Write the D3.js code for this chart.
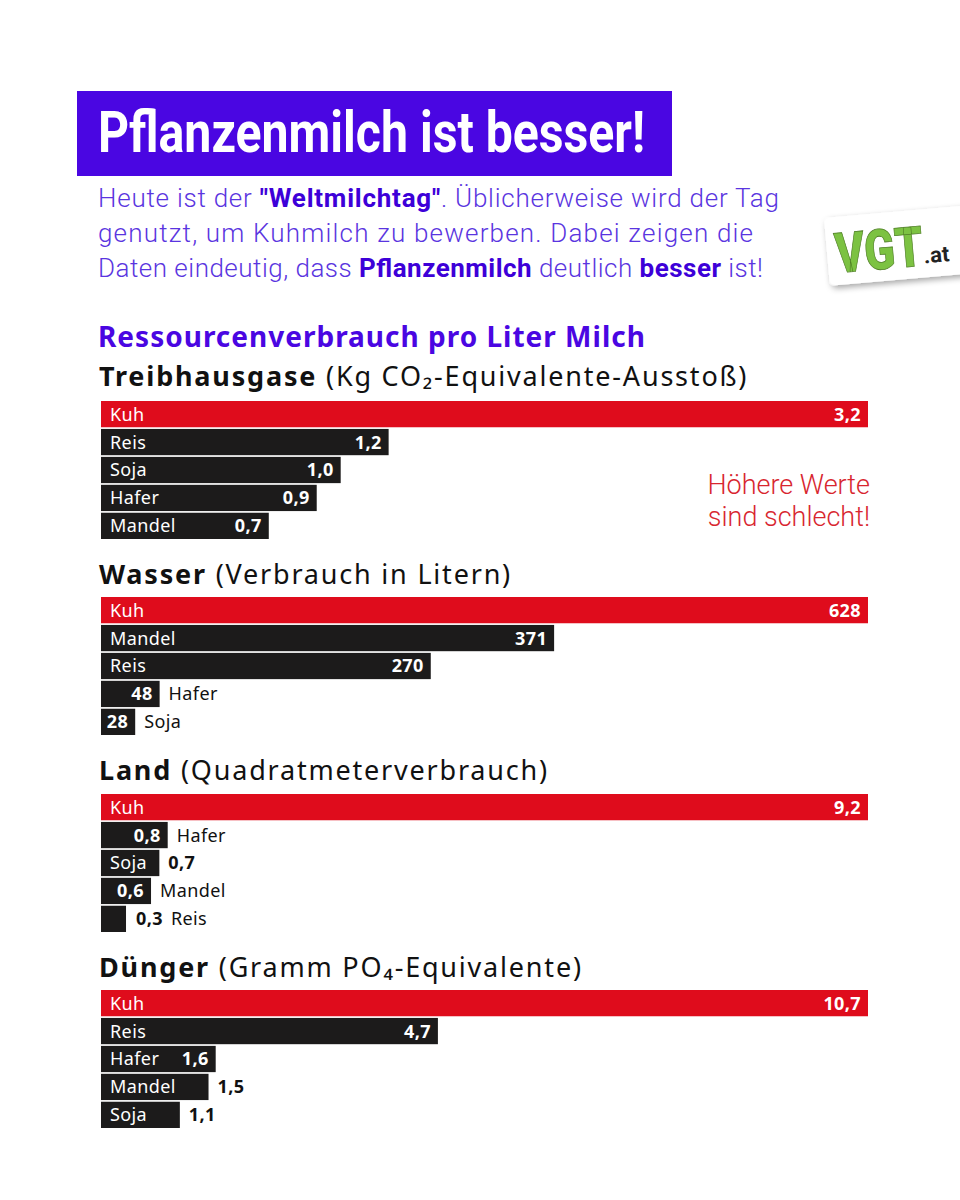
<!DOCTYPE html>
<html>
<head>
<meta charset="utf-8">
<script src="https://cdn.jsdelivr.net/npm/d3@7"></script>
<style>
  html, body { margin: 0; padding: 0; background: #fff; }
  svg { display: block; }
</style>
</head>
<body>
<div id="chart"></div>
<script>
// DATA
const titleText = "Pflanzenmilch ist besser!"
const introLines = [
  [["Heute ist der ", false], ["\"Weltmilchtag\"", true], [". Üblicherweise wird der Tag", false]],
  [["genutzt, um Kuhmilch zu bewerben. Dabei zeigen die", false]],
  [["Daten eindeutig, dass ", false], ["Pflanzenmilch", true], [" deutlich ", false], ["besser", true], [" ist!", false]],
]
const chartTitle = "Ressourcenverbrauch pro Liter Milch"
const noteLines = ["Höhere Werte", "sind schlecht!"]

const sectionNames = ["Treibhausgase", "Wasser", "Land", "Dünger"]
const sectionUnits = ["(Kg CO₂-Equivalente-Ausstoß)", "(Verbrauch in Litern)", "(Quadratmeterverbrauch)", "(Gramm PO₄-Equivalente)"]

const ghgNames = ["Kuh", "Reis", "Soja", "Hafer", "Mandel"]
const ghgValues = [3.2, 1.2, 1.0, 0.9, 0.7]
const waterNames = ["Kuh", "Mandel", "Reis", "Hafer", "Soja"]
const waterValues = [628, 371, 270, 48, 28]
const landNames = ["Kuh", "Hafer", "Soja", "Mandel", "Reis"]
const landValues = [9.2, 0.8, 0.7, 0.6, 0.3]
const fertNames = ["Kuh", "Reis", "Hafer", "Mandel", "Soja"]
const fertValues = [10.7, 4.7, 1.6, 1.5, 1.1]

// COLORS / FONTS
const purple = "#4a06e2"
const red = "#df0c1c"
const dark = "#1c1b1b"
const sans = "'Noto Sans', 'Open Sans', sans-serif"
const roboto = "Roboto, sans-serif"

const locale = d3.formatLocale({ decimal: ",", thousands: ".", grouping: [3], currency: ["", "€"] })

// where the labels go, per bar: both inside, value inside, name inside, both outside
const labelModes = [
  ["both", "both", "both", "both", "both"],
  ["both", "both", "both", "valueIn", "valueIn"],
  ["both", "valueIn", "nameIn", "valueIn", "out"],
  ["both", "both", "both", "nameIn", "nameIn"],
]

const sections = [
  { names: ghgNames, values: ghgValues, fmt: locale.format(".1f"), heading: 386, top: 401 },
  { names: waterNames, values: waterValues, fmt: locale.format("d"), heading: 584, top: 597 },
  { names: landNames, values: landValues, fmt: locale.format(".1f"), heading: 780, top: 794 },
  { names: fertNames, values: fertValues, fmt: locale.format(".1f"), heading: 977, top: 990 },
]

// DIMENSIONS
const width = 960
const height = 1200
const barLeft = 101
const barRight = 868
const blockHeight = 138
const introWidths = [681, 655, 665] // measured line lengths of the intro text

const svg = d3.select("#chart")
  .append("svg")
  .attr("width", width)
  .attr("height", height)

const defs = svg.append("defs")
const shadow = defs.append("filter")
  .attr("id", "shadow")
  .attr("x", "-20%").attr("y", "-30%")
  .attr("width", "150%").attr("height", "170%")
shadow.append("feDropShadow")
  .attr("dx", 2).attr("dy", 3)
  .attr("stdDeviation", 3)
  .attr("flood-color", "#000")
  .attr("flood-opacity", 0.35)

// HEADER
svg.append("rect")
  .attr("x", 77).attr("y", 91)
  .attr("width", 595).attr("height", 85)
  .attr("fill", purple)

svg.append("text")
  .attr("x", 98).attr("y", 152)
  .attr("font-family", roboto)
  .attr("font-weight", 700)
  .attr("font-size", 58)
  .attr("fill", "#fff")
  .attr("textLength", 547)
  .attr("lengthAdjust", "spacingAndGlyphs")
  .text(titleText)

const intro = svg.append("g")
introLines.forEach((line, i) => {
  const t = intro.append("text")
    .attr("x", 98)
    .attr("y", 207 + i * 35)
    .attr("font-family", roboto)
    .attr("font-size", 26)
    .attr("fill", purple)
    .attr("textLength", introWidths[i])
    .attr("lengthAdjust", "spacing")
  line.forEach(([str, bold]) => {
    t.append("tspan")
      .attr("font-weight", bold ? 700 : 300)
      .attr("fill", bold ? "#3d00d8" : "#5a35e0")
      .text(str)
  })
})

// LOGO
const logo = svg.append("g")
  .attr("transform", "translate(824,218) rotate(-5)")
logo.append("rect")
  .attr("width", 150).attr("height", 68)
  .attr("rx", 5)
  .attr("fill", "#fff")
  .attr("filter", "url(#shadow)")
logo.append("text")
  .attr("x", 8).attr("y", 56)
  .attr("font-family", roboto)
  .attr("font-weight", 900)
  .attr("font-size", 56)
  .attr("fill", "#7cc242")
  .attr("stroke", "#4e7d25")
  .attr("stroke-width", 0.8)
  .attr("textLength", 88)
  .attr("lengthAdjust", "spacingAndGlyphs")
  .text("VGT")
logo.append("text")
  .attr("x", 96).attr("y", 54)
  .attr("font-family", roboto)
  .attr("font-weight", 700)
  .attr("font-size", 22)
  .attr("fill", "#222")
  .text(".at")

// CHART TITLE
svg.append("text")
  .attr("x", 98).attr("y", 347)
  .attr("font-family", sans)
  .attr("font-weight", 700)
  .attr("font-size", 28)
  .attr("letter-spacing", 1)
  .attr("fill", purple)
  .text(chartTitle)

svg.append("g")
  .selectAll("text")
  .data(noteLines)
  .join("text")
    .attr("x", 870)
    .attr("y", (d, i) => 494 + i * 32)
    .attr("text-anchor", "end")
    .attr("font-family", roboto)
    .attr("font-weight", 300)
    .attr("font-size", 27)
    .attr("fill", "#d8262f")
    .text(d => d)

// BAR SECTIONS
sections.forEach((sec, si) => {
  const g = svg.append("g")

  const heading = g.append("text")
    .attr("x", 99)
    .attr("y", sec.heading)
    .attr("font-family", sans)
    .attr("font-size", 27)
    .attr("letter-spacing", 1.8)
    .attr("fill", "#111")
  heading.append("tspan").attr("font-weight", 700).text(sectionNames[si])
  heading.append("tspan").attr("font-weight", 400).text(" " + sectionUnits[si])

  const rows = sec.names.map((n, i) => ({ name: n, value: sec.values[i], mode: labelModes[si][i], index: i }))

  const xScale = d3.scaleLinear()
    .domain([0, d3.max(sec.values)])
    .range([barLeft, barRight])

  const yScale = d3.scaleBand()
    .domain(d3.range(rows.length))
    .range([sec.top, sec.top + blockHeight])
    .paddingInner(0.06)

  g.append("g")
    .selectAll("rect")
    .data(rows)
    .join("rect")
      .attr("x", xScale(0))
      .attr("y", d => yScale(d.index))
      .attr("width", d => xScale(d.value) - xScale(0))
      .attr("height", yScale.bandwidth())
      .attr("fill", d => d.index === 0 ? red : dark)

  const labels = g.append("g")
    .attr("font-family", sans)
    .attr("font-size", 18)
    .attr("letter-spacing", 0.4)
  rows.forEach(d => {
    const yMid = yScale(d.index) + yScale.bandwidth() / 2
    const end = xScale(d.value)
    const valueText = sec.fmt(d.value)

    const nameLabel = labels.append("text")
      .attr("y", yMid)
      .attr("dy", "0.36em")
      .text(d.name)
    const valueLabel = labels.append("text")
      .attr("y", yMid)
      .attr("dy", "0.36em")
      .attr("font-weight", 700)
      .text(valueText)

    if (d.mode === "both" || d.mode === "nameIn") {
      nameLabel.attr("x", 110).attr("fill", "#fff")
    }
    if (d.mode === "both" || d.mode === "valueIn") {
      valueLabel.attr("x", end - 7).attr("text-anchor", "end").attr("fill", "#fff")
    }
    if (d.mode === "valueIn") {
      nameLabel.attr("x", end + 9).attr("fill", "#111")
    }
    if (d.mode === "nameIn") {
      valueLabel.attr("x", end + 9).attr("fill", "#111")
    }
    if (d.mode === "out") {
      valueLabel.attr("x", end + 10).attr("fill", "#111")
      const w = valueLabel.node().getComputedTextLength()
      nameLabel.attr("x", end + 10 + w + 8).attr("fill", "#111")
    }
  })
})
</script>
</body>
</html>
